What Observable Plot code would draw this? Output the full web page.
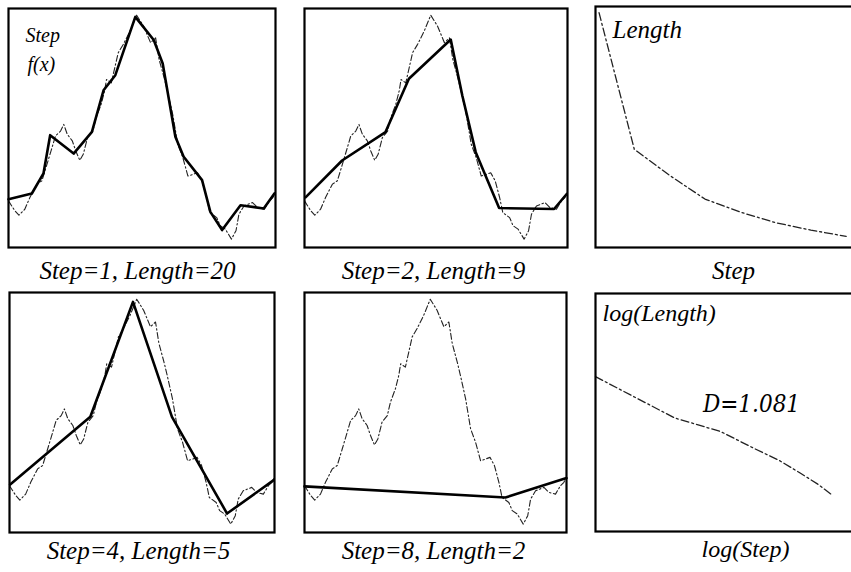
<!DOCTYPE html>
<html>
<head>
<meta charset="utf-8">
<script src="https://cdn.jsdelivr.net/npm/d3@7"></script>
<script src="https://cdn.jsdelivr.net/npm/@observablehq/plot@0.6"></script>
<style>
  html, body { margin: 0; padding: 0; background: #fff; }
  #chart { position: relative; width: 851px; height: 572px; overflow: hidden; background: #fff; }
</style>
</head>
<body>
<div id="chart"></div>
<script>
// f(x): the measured curve, x across the panel (0–100), height (0–100)
const curveX = [0, 2.3, 3.9, 6.1, 8, 10.6, 12.5, 14.4, 16.3, 17.6, 19.5, 20.7, 22, 23.9, 25.2, 26.7, 28, 29.6, 31.6, 32.8, 34.7, 36, 36.7, 38.5, 39.8, 41.1, 43, 45.5, 48, 50.6, 53.2, 55.1, 56.4, 58.3, 59.5, 61.5, 63.4, 65.3, 67.2, 69.1, 70.8, 72.5, 74.2, 75.4, 78, 79.3, 81.2, 83.5, 85.2, 86.3, 88.2, 91.4, 93.3, 95.8, 97.7, 99, 100];
const curveY = [19.5, 15.5, 13.5, 16, 20.9, 26.5, 27.9, 34.8, 41.8, 46.7, 48.7, 51.5, 47.4, 44.6, 40.4, 36.5, 39, 46, 48.7, 54.3, 59.9, 65.5, 70.3, 68.9, 75.2, 81.5, 85, 90.5, 97.2, 92.6, 85.7, 87.7, 78.7, 71, 65.5, 55.7, 43.2, 37.6, 29.9, 30.6, 31.3, 27.9, 20.9, 14.6, 12.5, 9.1, 7.7, 3.5, 7, 13.9, 17.4, 18.8, 16.7, 16, 19.5, 20.9, 23];

// Divider walks along f(x) for each step size
const walk1X = [0, 8.75, 13.1, 15.6, 24.4, 31.25, 35.6, 40, 47.5, 54.4, 57.75, 62.5, 65.6, 72.5, 75.6, 80, 86.9, 95.6, 99.6];
const walk1Y = [20.2, 22.6, 31, 47, 39.3, 48.4, 65.8, 72.1, 96.5, 86.8, 77, 46.3, 38, 28.2, 14.9, 7.3, 17.7, 16.3, 22.6];
const walk2X = [0.4, 14.3, 30.8, 39.7, 55.6, 60, 65.1, 74, 94.9, 99.7];
const walk2Y = [21, 36.4, 48.3, 70.6, 87, 63.6, 39.9, 16.5, 16.1, 22.4];
const walk4X = [0.25, 30.5, 46.6, 61.3, 82.1, 99.7];
const walk4Y = [20, 48.2, 96.1, 48.2, 7.9, 21.8];
const walk8X = [0, 76.7, 100];
const walk8Y = [19.2, 14.6, 22.7];

// Measured length against divider step
const steps = [1, 2, 3, 4, 5, 6, 7, 8];
const lengths = [20, 9, 6.9, 5, 3.95, 3.1, 2.5, 2];

const captions = ["Step=1, Length=20", "Step=2, Length=9", "Step=4, Length=5", "Step=8, Length=2"];
const axisNames = { step: "Step", length: "Length", fx: "f(x)", logStep: "log(Step)", logLength: "log(Length)" };
const dimensionLabel = "D=1.081";

const W = 880, H = 572;
const chart = document.getElementById("chart");

function place(svg) {
  Object.assign(svg.style, { position: "absolute", left: "0px", top: "0px", maxWidth: "none", background: "none", overflow: "hidden" });
  chart.append(svg);
}

function label(text, { anchor = "top-left", dx = 0, dy = 0, size = 24, textAnchor = "start", family = "Liberation Serif" } = {}) {
  return Plot.text([text], {
    frameAnchor: anchor, dx, dy, lineAnchor: "bottom", textAnchor,
    fontSize: size, fontStyle: "italic", fontFamily: family, fill: "#000"
  });
}

function frameMark() {
  return Plot.frame({ stroke: "#000", strokeWidth: 2.2 });
}

// One panel: the dashed curve, the divider walk over it, and the caption underneath
function curvePanel({ box, walkX, walkY, caption, capX, capBase, extra = [] }) {
  const [l, t, r, b] = box;
  return Plot.plot({
    width: W, height: H,
    marginLeft: l, marginTop: t, marginRight: W - r, marginBottom: H - b,
    x: { domain: [0, 100], axis: null },
    y: { domain: [0, 100], axis: null },
    marks: [
      Plot.line({ length: curveX.length }, { x: curveX, y: curveY, stroke: "#222", strokeWidth: 1.1, strokeDasharray: "6,2.5,1.5,2.5" }),
      Plot.line({ length: walkX.length }, { x: walkX, y: walkY, stroke: "#000", strokeWidth: 2.6, strokeLinejoin: "round", strokeLinecap: "round" }),
      frameMark(),
      label(caption, { anchor: "bottom", dx: capX - (l + r) / 2, dy: capBase - b, size: 25, textAnchor: "middle" }),
      ...extra
    ]
  });
}

place(curvePanel({
  box: [8, 8, 275, 247], walkX: walk1X, walkY: walk1Y, caption: captions[0], capX: 137, capBase: 278,
  extra: [
    label(axisNames.step, { dx: 17, dy: 33, size: 20 }),
    label(axisNames.fx, { dx: 19, dy: 62, size: 20 })
  ]
}));
place(curvePanel({ box: [304, 8, 567, 247], walkX: walk2X, walkY: walk2Y, caption: captions[1], capX: 433, capBase: 278 }));
place(curvePanel({ box: [9, 292, 274, 532], walkX: walk4X, walkY: walk4Y, caption: captions[2], capX: 138, capBase: 558 }));
place(curvePanel({ box: [304, 292, 566, 532], walkX: walk8X, walkY: walk8Y, caption: captions[3], capX: 433, capBase: 558 }));

// Length against step
place(Plot.plot({
  width: W, height: H,
  marginLeft: 595, marginTop: 6, marginRight: W - 858, marginBottom: H - 247,
  x: { domain: [0.9, 8.35], axis: null },
  y: { domain: [1.1, 20.5], axis: null },
  marks: [
    Plot.line({ length: steps.length }, { x: steps, y: lengths, stroke: "#222", strokeWidth: 1.3, strokeDasharray: "8,3,2,3" }),
    frameMark(),
    label(axisNames.length, { dx: 17, dy: 31, size: 25 }),
    label(axisNames.step, { anchor: "bottom", dx: 733 - (595 + 858) / 2, dy: 31, size: 25, textAnchor: "middle" })
  ]
}));

// log(Length) against log(Step)
place(Plot.plot({
  width: W, height: H,
  marginLeft: 595, marginTop: 293, marginRight: W - 858, marginBottom: H - 531,
  x: { type: "log", domain: [1, 10], axis: null },
  y: { type: "log", domain: [1, 100], axis: null },
  marks: [
    Plot.line({ length: steps.length }, { x: steps, y: lengths, stroke: "#222", strokeWidth: 1.3, strokeDasharray: "8,3,2,3" }),
    frameMark(),
    label(axisNames.logLength, { dx: 7, dy: 27, size: 24 }),
    label(dimensionLabel, { dx: 156, dy: 118, size: 24, textAnchor: "middle", family: "DejaVu Serif Condensed" }),
    label(axisNames.logStep, { anchor: "bottom", dx: 745 - (595 + 858) / 2, dy: 25, size: 24, textAnchor: "middle" })
  ]
}));
</script>
</body>
</html>
